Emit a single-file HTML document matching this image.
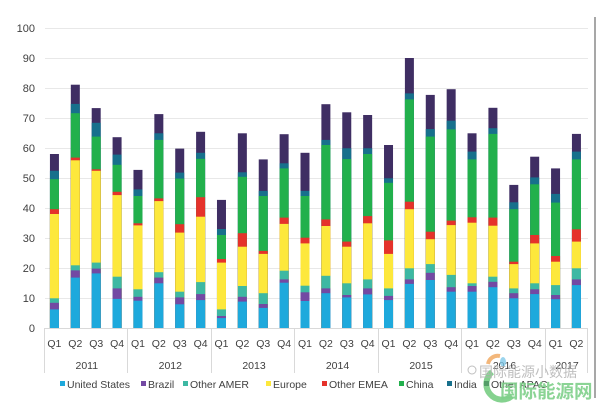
<!DOCTYPE html>
<html><head><meta charset="utf-8"><style>
html,body{margin:0;padding:0;background:#fff;}
svg{display:block;}
text{font-family:"Liberation Sans","Noto Sans CJK SC",sans-serif;fill:#404040;}
.a{fill:#3f2e63}.i{fill:#17708c}.c{fill:#22b04c}.m{fill:#e5322b}.e{fill:#fde83c}.o{fill:#3db8a3}.b{fill:#7349a3}.u{fill:#1ea9dc}
</style></head><body>
<svg width="600" height="404" viewBox="0 0 600 404" xmlns="http://www.w3.org/2000/svg">
<rect width="600" height="404" fill="#fff"/>
<g stroke="#e8e8e8" stroke-width="1">
<line x1="45" y1="28.5" x2="588" y2="28.5"/><line x1="45" y1="58.5" x2="588" y2="58.5"/><line x1="45" y1="88.5" x2="588" y2="88.5"/><line x1="45" y1="118.5" x2="588" y2="118.5"/><line x1="45" y1="148.5" x2="588" y2="148.5"/><line x1="45" y1="178.5" x2="588" y2="178.5"/><line x1="45" y1="208.5" x2="588" y2="208.5"/><line x1="45" y1="238.5" x2="588" y2="238.5"/><line x1="45" y1="268.5" x2="588" y2="268.5"/><line x1="45" y1="298.5" x2="588" y2="298.5"/>
</g>
<line x1="44" y1="328.5" x2="588" y2="328.5" stroke="#d9d9d9"/>
<g font-size="11" text-anchor="end">
<text x="35" y="32">100</text><text x="35" y="62">90</text><text x="35" y="92">80</text><text x="35" y="122">70</text><text x="35" y="152">60</text><text x="35" y="182">50</text><text x="35" y="212">40</text><text x="35" y="242">30</text><text x="35" y="272">20</text><text x="35" y="302">10</text><text x="35" y="332">0</text>
</g>
<g>
<g transform="translate(49.94,0)"><rect class="a" width="9" y="154" height="174"/><rect class="i" width="9" y="170.8" height="157.2"/><rect class="c" width="9" y="179.2" height="148.8"/><rect class="m" width="9" y="209.2" height="118.8"/><rect class="e" width="9" y="214" height="114"/><rect class="o" width="9" y="298.3" height="29.7"/><rect class="b" width="9" y="302.8" height="25.2"/><rect class="u" width="9" y="309.4" height="18.6"/></g>
<g transform="translate(70.82,0)"><rect class="a" width="9" y="84.7" height="243.3"/><rect class="i" width="9" y="103.9" height="224.1"/><rect class="c" width="9" y="113.2" height="214.8"/><rect class="m" width="9" y="157.6" height="170.4"/><rect class="e" width="9" y="160.3" height="167.7"/><rect class="o" width="9" y="265.3" height="62.7"/><rect class="b" width="9" y="270.4" height="57.6"/><rect class="u" width="9" y="277.6" height="50.4"/></g>
<g transform="translate(91.70,0)"><rect class="a" width="9" y="108.1" height="219.9"/><rect class="i" width="9" y="122.8" height="205.2"/><rect class="c" width="9" y="136.6" height="191.4"/><rect class="m" width="9" y="169.3" height="158.7"/><rect class="e" width="9" y="170.8" height="157.2"/><rect class="o" width="9" y="262.6" height="65.4"/><rect class="b" width="9" y="268.6" height="59.4"/><rect class="u" width="9" y="273.4" height="54.6"/></g>
<g transform="translate(112.58,0)"><rect class="a" width="9" y="137.2" height="190.8"/><rect class="i" width="9" y="154.6" height="173.4"/><rect class="c" width="9" y="164.8" height="163.2"/><rect class="m" width="9" y="191.8" height="136.2"/><rect class="e" width="9" y="195.1" height="132.9"/><rect class="o" width="9" y="276.7" height="51.3"/><rect class="b" width="9" y="288.4" height="39.6"/><rect class="u" width="9" y="298.9" height="29.1"/></g>
<g transform="translate(133.46,0)"><rect class="a" width="9" y="169.9" height="158.1"/><rect class="i" width="9" y="189.4" height="138.6"/><rect class="c" width="9" y="196" height="132"/><rect class="m" width="9" y="223.3" height="104.7"/><rect class="e" width="9" y="225.4" height="102.6"/><rect class="o" width="9" y="289.3" height="38.7"/><rect class="b" width="9" y="296.8" height="31.2"/><rect class="u" width="9" y="300.7" height="27.3"/></g>
<g transform="translate(154.34,0)"><rect class="a" width="9" y="114.1" height="213.9"/><rect class="i" width="9" y="133.3" height="194.7"/><rect class="c" width="9" y="139.9" height="188.1"/><rect class="m" width="9" y="198.4" height="129.6"/><rect class="e" width="9" y="201.1" height="126.9"/><rect class="o" width="9" y="272.2" height="55.8"/><rect class="b" width="9" y="277.6" height="50.4"/><rect class="u" width="9" y="283.3" height="44.7"/></g>
<g transform="translate(175.22,0)"><rect class="a" width="9" y="148.6" height="179.4"/><rect class="i" width="9" y="172.6" height="155.4"/><rect class="c" width="9" y="178.6" height="149.4"/><rect class="m" width="9" y="224.2" height="103.8"/><rect class="e" width="9" y="232.6" height="95.4"/><rect class="o" width="9" y="291.7" height="36.3"/><rect class="b" width="9" y="297.4" height="30.6"/><rect class="u" width="9" y="304.3" height="23.7"/></g>
<g transform="translate(196.10,0)"><rect class="a" width="9" y="131.8" height="196.2"/><rect class="i" width="9" y="152.8" height="175.2"/><rect class="c" width="9" y="158.8" height="169.2"/><rect class="m" width="9" y="197.2" height="130.8"/><rect class="e" width="9" y="216.7" height="111.3"/><rect class="o" width="9" y="282.1" height="45.9"/><rect class="b" width="9" y="294.1" height="33.9"/><rect class="u" width="9" y="300.1" height="27.9"/></g>
<g transform="translate(216.98,0)"><rect class="a" width="9" y="199.9" height="128.1"/><rect class="i" width="9" y="229" height="99"/><rect class="c" width="9" y="235" height="93"/><rect class="m" width="9" y="259" height="69"/><rect class="e" width="9" y="262.6" height="65.4"/><rect class="o" width="9" y="309.4" height="18.6"/><rect class="b" width="9" y="316" height="12"/><rect class="u" width="9" y="318.1" height="9.9"/></g>
<g transform="translate(237.86,0)"><rect class="a" width="9" y="133.3" height="194.7"/><rect class="i" width="9" y="172.3" height="155.7"/><rect class="c" width="9" y="176.8" height="151.2"/><rect class="m" width="9" y="233.2" height="94.8"/><rect class="e" width="9" y="246.7" height="81.3"/><rect class="o" width="9" y="286" height="42"/><rect class="b" width="9" y="296.8" height="31.2"/><rect class="u" width="9" y="301.6" height="26.4"/></g>
<g transform="translate(258.74,0)"><rect class="a" width="9" y="159.4" height="168.6"/><rect class="i" width="9" y="190.9" height="137.1"/><rect class="c" width="9" y="196" height="132"/><rect class="m" width="9" y="250.9" height="77.1"/><rect class="e" width="9" y="253.9" height="74.1"/><rect class="o" width="9" y="293.2" height="34.8"/><rect class="b" width="9" y="304" height="24"/><rect class="u" width="9" y="307.9" height="20.1"/></g>
<g transform="translate(279.62,0)"><rect class="a" width="9" y="134.2" height="193.8"/><rect class="i" width="9" y="163.3" height="164.7"/><rect class="c" width="9" y="168.4" height="159.6"/><rect class="m" width="9" y="217.6" height="110.4"/><rect class="e" width="9" y="223.9" height="104.1"/><rect class="o" width="9" y="270.7" height="57.3"/><rect class="b" width="9" y="279.4" height="48.6"/><rect class="u" width="9" y="282.7" height="45.3"/></g>
<g transform="translate(300.50,0)"><rect class="a" width="9" y="152.8" height="175.2"/><rect class="i" width="9" y="190.9" height="137.1"/><rect class="c" width="9" y="196" height="132"/><rect class="m" width="9" y="237.7" height="90.3"/><rect class="e" width="9" y="243.4" height="84.6"/><rect class="o" width="9" y="285.7" height="42.3"/><rect class="b" width="9" y="292.3" height="35.7"/><rect class="u" width="9" y="301" height="27"/></g>
<g transform="translate(321.38,0)"><rect class="a" width="9" y="104.2" height="223.8"/><rect class="i" width="9" y="139.9" height="188.1"/><rect class="c" width="9" y="145" height="183"/><rect class="m" width="9" y="219.4" height="108.6"/><rect class="e" width="9" y="226" height="102"/><rect class="o" width="9" y="275.8" height="52.2"/><rect class="b" width="9" y="288.4" height="39.6"/><rect class="u" width="9" y="293.2" height="34.8"/></g>
<g transform="translate(342.26,0)"><rect class="a" width="9" y="112.3" height="215.7"/><rect class="i" width="9" y="148.3" height="179.7"/><rect class="c" width="9" y="159.1" height="168.9"/><rect class="m" width="9" y="241.6" height="86.4"/><rect class="e" width="9" y="246.7" height="81.3"/><rect class="o" width="9" y="283.3" height="44.7"/><rect class="b" width="9" y="295" height="33"/><rect class="u" width="9" y="297.4" height="30.6"/></g>
<g transform="translate(363.14,0)"><rect class="a" width="9" y="115" height="213"/><rect class="i" width="9" y="148.3" height="179.7"/><rect class="c" width="9" y="154" height="174"/><rect class="m" width="9" y="216.1" height="111.9"/><rect class="e" width="9" y="223.3" height="104.7"/><rect class="o" width="9" y="279.4" height="48.6"/><rect class="b" width="9" y="288.4" height="39.6"/><rect class="u" width="9" y="294.4" height="33.6"/></g>
<g transform="translate(384.02,0)"><rect class="a" width="9" y="145" height="183"/><rect class="i" width="9" y="178.3" height="149.7"/><rect class="c" width="9" y="182.8" height="145.2"/><rect class="m" width="9" y="240.4" height="87.6"/><rect class="e" width="9" y="253.9" height="74.1"/><rect class="o" width="9" y="288.4" height="39.6"/><rect class="b" width="9" y="295.9" height="32.1"/><rect class="u" width="9" y="300.1" height="27.9"/></g>
<g transform="translate(404.90,0)"><rect class="a" width="9" y="58" height="270"/><rect class="i" width="9" y="93.4" height="234.6"/><rect class="c" width="9" y="99.4" height="228.6"/><rect class="m" width="9" y="201.7" height="126.3"/><rect class="e" width="9" y="209.2" height="118.8"/><rect class="o" width="9" y="268.3" height="59.7"/><rect class="b" width="9" y="279.4" height="48.6"/><rect class="u" width="9" y="283.9" height="44.1"/></g>
<g transform="translate(425.78,0)"><rect class="a" width="9" y="94.9" height="233.1"/><rect class="i" width="9" y="129.1" height="198.9"/><rect class="c" width="9" y="136.6" height="191.4"/><rect class="m" width="9" y="231.7" height="96.3"/><rect class="e" width="9" y="239.2" height="88.8"/><rect class="o" width="9" y="264.1" height="63.9"/><rect class="b" width="9" y="272.8" height="55.2"/><rect class="u" width="9" y="280" height="48"/></g>
<g transform="translate(446.66,0)"><rect class="a" width="9" y="89.2" height="238.8"/><rect class="i" width="9" y="120.7" height="207.3"/><rect class="c" width="9" y="129.4" height="198.6"/><rect class="m" width="9" y="220.6" height="107.4"/><rect class="e" width="9" y="225.1" height="102.9"/><rect class="o" width="9" y="274.9" height="53.1"/><rect class="b" width="9" y="287.2" height="40.8"/><rect class="u" width="9" y="291.7" height="36.3"/></g>
<g transform="translate(467.54,0)"><rect class="a" width="9" y="133.3" height="194.7"/><rect class="i" width="9" y="151.6" height="176.4"/><rect class="c" width="9" y="159.4" height="168.6"/><rect class="m" width="9" y="217.3" height="110.7"/><rect class="e" width="9" y="222.7" height="105.3"/><rect class="o" width="9" y="283.3" height="44.7"/><rect class="b" width="9" y="286" height="42"/><rect class="u" width="9" y="291.7" height="36.3"/></g>
<g transform="translate(488.42,0)"><rect class="a" width="9" y="107.8" height="220.2"/><rect class="i" width="9" y="128.2" height="199.8"/><rect class="c" width="9" y="133.9" height="194.1"/><rect class="m" width="9" y="217.6" height="110.4"/><rect class="e" width="9" y="225.7" height="102.3"/><rect class="o" width="9" y="276.7" height="51.3"/><rect class="b" width="9" y="281.8" height="46.2"/><rect class="u" width="9" y="287.2" height="40.8"/></g>
<g transform="translate(509.30,0)"><rect class="a" width="9" y="184.9" height="143.1"/><rect class="i" width="9" y="202.3" height="125.7"/><rect class="c" width="9" y="209.2" height="118.8"/><rect class="m" width="9" y="261.7" height="66.3"/><rect class="e" width="9" y="264.1" height="63.9"/><rect class="o" width="9" y="288.4" height="39.6"/><rect class="b" width="9" y="293.2" height="34.8"/><rect class="u" width="9" y="298.3" height="29.7"/></g>
<g transform="translate(530.18,0)"><rect class="a" width="9" y="156.7" height="171.3"/><rect class="i" width="9" y="177.4" height="150.6"/><rect class="c" width="9" y="184.3" height="143.7"/><rect class="m" width="9" y="235" height="93"/><rect class="e" width="9" y="243.4" height="84.6"/><rect class="o" width="9" y="283.3" height="44.7"/><rect class="b" width="9" y="289.3" height="38.7"/><rect class="u" width="9" y="294.1" height="33.9"/></g>
<g transform="translate(551.06,0)"><rect class="a" width="9" y="168.4" height="159.6"/><rect class="i" width="9" y="193.9" height="134.1"/><rect class="c" width="9" y="202.6" height="125.4"/><rect class="m" width="9" y="256" height="72"/><rect class="e" width="9" y="261.7" height="66.3"/><rect class="o" width="9" y="285.1" height="42.9"/><rect class="b" width="9" y="295" height="33"/><rect class="u" width="9" y="299.2" height="28.8"/></g>
<g transform="translate(571.94,0)"><rect class="a" width="9" y="133.9" height="194.1"/><rect class="i" width="9" y="151.6" height="176.4"/><rect class="c" width="9" y="159.4" height="168.6"/><rect class="m" width="9" y="229.3" height="98.7"/><rect class="e" width="9" y="241.6" height="86.4"/><rect class="o" width="9" y="268.3" height="59.7"/><rect class="b" width="9" y="279.4" height="48.6"/><rect class="u" width="9" y="285.1" height="42.9"/></g>
</g>
<g stroke="#d9d9d9" stroke-width="1">
<line x1="44.5" y1="328" x2="44.5" y2="373"/><line x1="127.5" y1="328" x2="127.5" y2="373"/><line x1="211.5" y1="328" x2="211.5" y2="373"/><line x1="294.5" y1="328" x2="294.5" y2="373"/><line x1="378.5" y1="328" x2="378.5" y2="373"/><line x1="461.5" y1="328" x2="461.5" y2="373"/><line x1="545.5" y1="328" x2="545.5" y2="373"/><line x1="587.5" y1="328" x2="587.5" y2="373"/>
</g>
<g font-size="10.5" text-anchor="middle">
<text x="54.4" y="347">Q1</text><text x="75.3" y="347">Q2</text><text x="96.2" y="347">Q3</text><text x="117.1" y="347">Q4</text>
<text x="138" y="347">Q1</text><text x="158.8" y="347">Q2</text><text x="179.7" y="347">Q3</text><text x="200.6" y="347">Q4</text>
<text x="221.5" y="347">Q1</text><text x="242.4" y="347">Q2</text><text x="263.2" y="347">Q3</text><text x="284.1" y="347">Q4</text>
<text x="305" y="347">Q1</text><text x="325.9" y="347">Q2</text><text x="346.8" y="347">Q3</text><text x="367.6" y="347">Q4</text>
<text x="388.5" y="347">Q1</text><text x="409.4" y="347">Q2</text><text x="430.3" y="347">Q3</text><text x="451.2" y="347">Q4</text>
<text x="472" y="347">Q1</text><text x="492.9" y="347">Q2</text><text x="513.8" y="347">Q3</text><text x="534.7" y="347">Q4</text>
<text x="555.6" y="347">Q1</text><text x="576.4" y="347">Q2</text>
<text x="86.8" y="369">2011</text><text x="170.3" y="369">2012</text><text x="254" y="369">2013</text><text x="337.5" y="369">2014</text><text x="421" y="369">2015</text><text x="504.5" y="369">2016</text><text x="567" y="369">2017</text>
</g>
<g font-size="10.5">
<rect x="60" y="381" width="5" height="5" class="u"/><text x="67" y="388">United States</text>
<rect x="141" y="381" width="5" height="5" class="b"/><text x="148" y="388">Brazil</text>
<rect x="183" y="381" width="5" height="5" class="o"/><text x="190" y="388">Other AMER</text>
<rect x="266" y="381" width="5" height="5" class="e"/><text x="273" y="388">Europe</text>
<rect x="322" y="381" width="5" height="5" class="m"/><text x="329" y="388">Other EMEA</text>
<rect x="399" y="381" width="5" height="5" class="c"/><text x="406" y="388">China</text>
<rect x="447" y="381" width="5" height="5" class="i"/><text x="454" y="388">India</text>
<rect x="484" y="381" width="5" height="5" class="a"/><text x="491" y="388">Other APAC</text>
</g>
<line x1="595" y1="17" x2="595" y2="398" stroke="#8a8a8a" stroke-width="1.5"/>
<g opacity="0.75">
<path d="M492 372 A14 14 0 1 0 512 396" fill="none" stroke="#5cc36a" stroke-width="6"/>
<path d="M488 364 A10 10 0 0 1 500 356" fill="none" stroke="#f0a050" stroke-width="4"/>
<ellipse cx="503" cy="362" rx="3" ry="5" fill="#7ac6e8"/>
<circle cx="472" cy="370" r="4" fill="none" stroke="#aaa" stroke-width="1"/>
</g>
<text x="479" y="377" font-size="14" style="fill:#b4b4b4;opacity:0.85">国际能源小数据</text>
<text x="500" y="398" font-size="18.5" font-weight="bold" style="fill:#7fd08a;opacity:0.9">国际能源网</text>
</svg>
</body></html>
